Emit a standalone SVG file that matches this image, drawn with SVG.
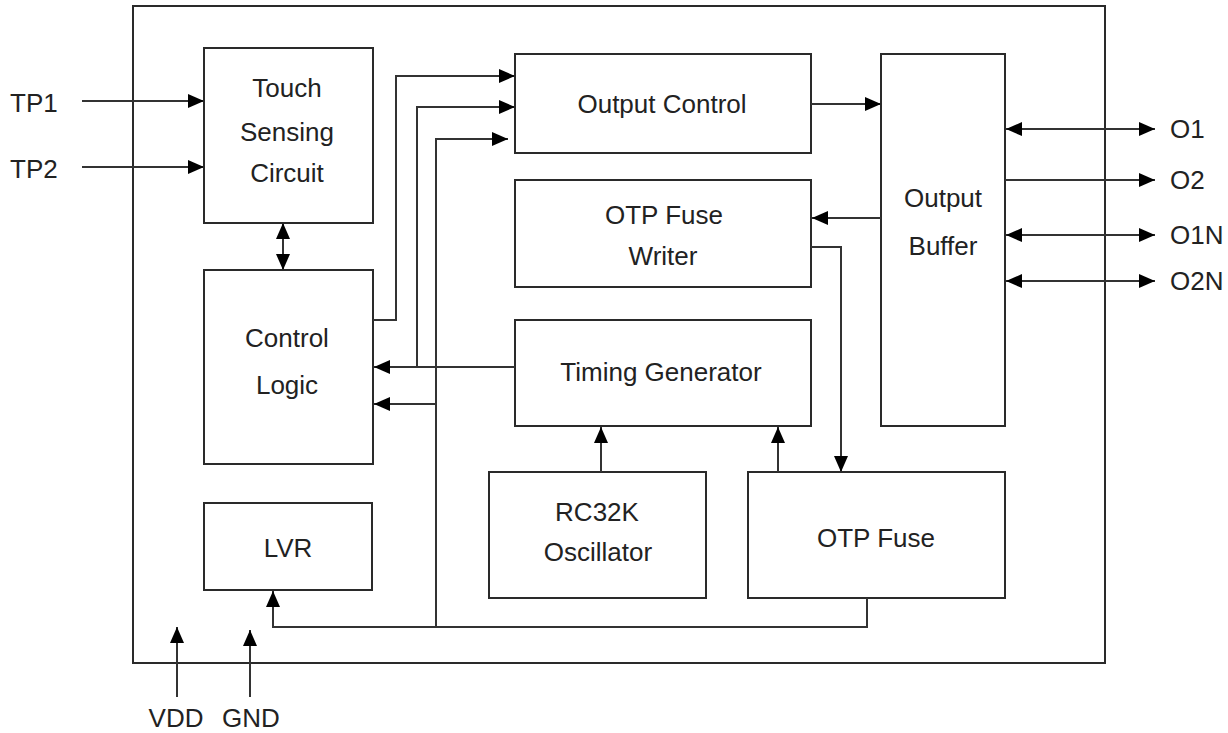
<svg xmlns="http://www.w3.org/2000/svg" width="1228" height="733" viewBox="0 0 1228 733">
<style>
.box{fill:none;stroke:#2a2a2a;stroke-width:2}
.ln{fill:none;stroke:#333;stroke-width:2}
.t{font-family:"Liberation Sans",Arial,sans-serif;font-size:26px;fill:#222;text-anchor:middle}
.tl{font-family:"Liberation Sans",Arial,sans-serif;font-size:26px;fill:#222}
</style>
<defs>
<marker id="ah" markerUnits="userSpaceOnUse" markerWidth="16" markerHeight="14" viewBox="0 0 16 14" refX="16" refY="7" orient="auto-start-reverse">
<path d="M0,0 L16,7 L0,14 z" fill="#000"/>
</marker>
</defs>
<rect x="133" y="6" width="972" height="657" class="box"/>
<g id="touch"><rect x="204" y="48" width="169" height="175" class="box"/><text class="t" x="287" y="97">Touch</text><text class="t" x="287" y="141">Sensing</text><text class="t" x="287" y="182">Circuit</text></g>
<g id="control"><rect x="204" y="270" width="169" height="194" class="box"/><text class="t" x="287" y="347">Control</text><text class="t" x="287" y="394">Logic</text></g>
<g id="lvr"><rect x="204" y="503" width="168" height="87" class="box"/><text class="t" x="288" y="557">LVR</text></g>
<g id="outctrl"><rect x="515" y="54" width="296" height="99" class="box"/><text class="t" x="662" y="113">Output Control</text></g>
<g id="writer"><rect x="515" y="180" width="296" height="107" class="box"/><text class="t" x="664" y="224">OTP Fuse</text><text class="t" x="663" y="265">Writer</text></g>
<g id="timing"><rect x="515" y="320" width="296" height="106" class="box"/><text class="t" x="661" y="381">Timing Generator</text></g>
<g id="rc"><rect x="489" y="472" width="217" height="126" class="box"/><text class="t" x="597" y="521">RC32K</text><text class="t" x="598" y="561">Oscillator</text></g>
<g id="otp"><rect x="748" y="472" width="257" height="126" class="box"/><text class="t" x="876" y="547">OTP Fuse</text></g>
<g id="buffer"><rect x="881" y="54" width="124" height="372" class="box"/><text class="t" x="943" y="207">Output</text><text class="t" x="943" y="255">Buffer</text></g>
<g id="labels">
<text class="tl" x="10" y="112">TP1</text><text class="tl" x="10" y="178">TP2</text>
<text class="tl" x="1170" y="138">O1</text><text class="tl" x="1170" y="189">O2</text><text class="tl" x="1170" y="244">O1N</text><text class="tl" x="1170" y="290">O2N</text>
<text class="t" x="176" y="727">VDD</text><text class="t" x="251" y="727">GND</text>
</g>
<g id="connectors">
<path class="ln" d="M82,101 H204" marker-end="url(#ah)"/>
<path class="ln" d="M82,167 H204" marker-end="url(#ah)"/>
<path class="ln" d="M283,223 V270" marker-start="url(#ah)" marker-end="url(#ah)"/>
<path class="ln" d="M373,320 H396 V76 H515" marker-end="url(#ah)"/>
<path class="ln" d="M417,367 V107 H515" marker-end="url(#ah)"/>
<path class="ln" d="M515,367 H374" marker-end="url(#ah)"/>
<path class="ln" d="M436,627 V139 H508" marker-end="url(#ah)"/>
<path class="ln" d="M436,404 H374" marker-end="url(#ah)"/>
<path class="ln" d="M811,104 H881" marker-end="url(#ah)"/>
<path class="ln" d="M881,218 H812" marker-end="url(#ah)"/>
<path class="ln" d="M811,247 H841 V472" marker-end="url(#ah)"/>
<path class="ln" d="M601,472 V427" marker-end="url(#ah)"/>
<path class="ln" d="M778,472 V427" marker-end="url(#ah)"/>
<path class="ln" d="M867,598 V627 H273 V591" marker-end="url(#ah)"/>
<path class="ln" d="M177,697 V627" marker-end="url(#ah)"/>
<path class="ln" d="M250,697 V630" marker-end="url(#ah)"/>
<path class="ln" d="M1006,129 H1155" marker-start="url(#ah)" marker-end="url(#ah)"/>
<path class="ln" d="M1005,180 H1155" marker-end="url(#ah)"/>
<path class="ln" d="M1006,235 H1155" marker-start="url(#ah)" marker-end="url(#ah)"/>
<path class="ln" d="M1006,281 H1155" marker-start="url(#ah)" marker-end="url(#ah)"/>
</g>
</svg>
